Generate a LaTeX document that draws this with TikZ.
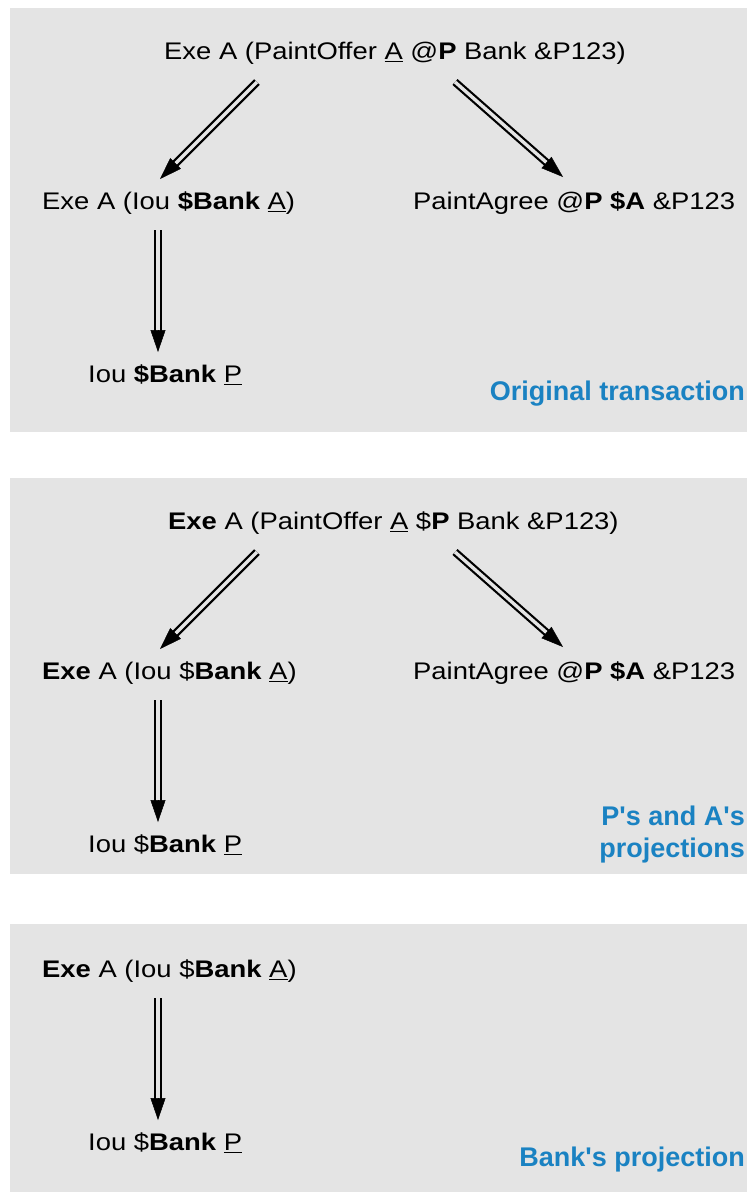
\documentclass[tikz,border=0pt]{standalone}
\usepackage{fontspec}
\setmainfont{Liberation Sans}[FakeStretch=1.142]
\newfontfamily\labelfont{Liberation Sans}
\usetikzlibrary{arrows.meta,calc}
\definecolor{panel}{HTML}{E4E4E4}
\definecolor{lblue}{HTML}{1A82C2}
\newcommand\ul[1]{\setbox0\hbox{#1}\rlap{\rule[-3.4pt]{\wd0}{1.3pt}}\box0\relax}
\newcommand\dblarrow[2]{\draw[shaft] (#1) -- ($(#2)!20pt!(#1)$); \draw[head] ($(#2)!22pt!(#1)$) -- (#2);}
\tikzset{
 panelbox/.style={fill=panel, draw=none},
 txt/.style={anchor=base west, inner sep=0pt, font=\fontsize{24}{29}\selectfont},
 lbl/.style={anchor=base east, inner sep=0pt, align=right, text=lblue, font=\labelfont\bfseries\fontsize{27}{32}\selectfont},
 shaft/.style={draw=black, line width=2.2pt, double=panel, double distance=3.4pt},
 head/.style={line width=0.5pt, -{Triangle[length=22pt,width=15pt]}},
}
\begin{document}
\begin{tikzpicture}[x=1pt,y=-1pt]
\useasboundingbox[fill=white] (0,0) rectangle (747,1192);
% panels
\fill[panelbox] (9.5,8) rectangle (747,432);
\fill[panelbox] (9.5,478) rectangle (747,874);
\fill[panelbox] (9.5,924) rectangle (747,1192);

% panel 1
\node[txt] (t1) at (164,59) {Exe A (PaintOffer \ul{A} @\textbf{P} Bank \&P123)};
\node[txt] (m1) at (42,209) {Exe A (Iou \textbf{\$Bank} \ul{A})};
\node[txt] (r1) at (413,209) {PaintAgree @\textbf{P \$A} \&P123};
\node[txt] (b1) at (88,382) {Iou \textbf{\$Bank} \ul{P}};
\node[lbl] (l1) at (745,400) {Original transaction};
\coordinate (s11) at ([shift={(93,23)}]t1.base west);
\coordinate (e11) at ([shift={(118,-30)}]m1.base west);
\coordinate (s12) at ([shift={(291,23)}]t1.base west);
\coordinate (e12) at ([shift={(150,-32)}]r1.base west);
\coordinate (s13) at ([shift={(116,21)}]m1.base west);
\coordinate (e13) at ([shift={(70,-30)}]b1.base west);
\dblarrow{s11}{e11}
\dblarrow{s12}{e12}
\dblarrow{s13}{e13}

% panel 2
\node[txt] (t2) at (168,529) {\textbf{Exe} A (PaintOffer \ul{A} \$\textbf{P} Bank \&P123)};
\node[txt] (m2) at (42,679) {\textbf{Exe} A (Iou \$\textbf{Bank} \ul{A})};
\node[txt] (r2) at (413,679) {PaintAgree @\textbf{P \$A} \&P123};
\node[txt] (b2) at (88,852) {Iou \$\textbf{Bank} \ul{P}};
\node[lbl] (l2) at (745,857) {P's and A's\\projections};
\coordinate (s21) at ([shift={(89,23)}]t2.base west);
\coordinate (e21) at ([shift={(118,-30)}]m2.base west);
\coordinate (s22) at ([shift={(287,23)}]t2.base west);
\coordinate (e22) at ([shift={(150,-32)}]r2.base west);
\coordinate (s23) at ([shift={(116,21)}]m2.base west);
\coordinate (e23) at ([shift={(70,-30)}]b2.base west);
\dblarrow{s21}{e21}
\dblarrow{s22}{e22}
\dblarrow{s23}{e23}

% panel 3
\node[txt] (m3) at (42,977) {\textbf{Exe} A (Iou \$\textbf{Bank} \ul{A})};
\node[txt] (b3) at (88,1150) {Iou \$\textbf{Bank} \ul{P}};
\node[lbl] (l3) at (745,1166) {Bank's projection};
\coordinate (s33) at ([shift={(116,21)}]m3.base west);
\coordinate (e33) at ([shift={(70,-30)}]b3.base west);
\dblarrow{s33}{e33}
\end{tikzpicture}
\end{document}
